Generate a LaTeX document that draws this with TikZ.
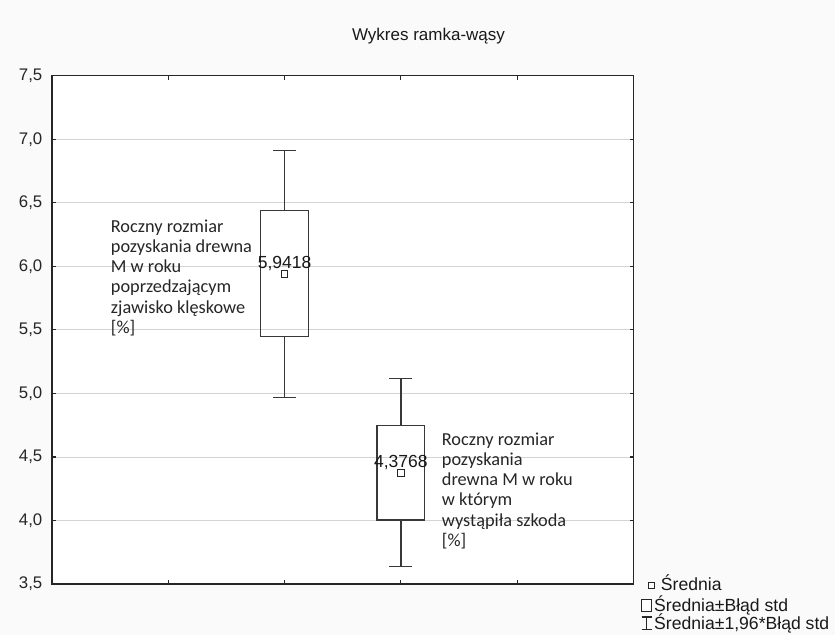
\documentclass[tikz,border=0pt]{standalone}
\usepackage{fontspec}
\setmainfont{Liberation Sans}
\newfontfamily\calib{Carlito}
\begin{document}
\begin{tikzpicture}[x=1pt,y=-1pt,
  framest/.style={draw=black!85, line width=1.4pt},
  gridst/.style={draw=black!17, line width=1pt},
  boxst/.style={draw=black!78, line width=1.3pt},
  tickst/.style={draw=black!85, line width=1.1pt},
  axlab/.style={font=\fontsize{16.8}{18}\selectfont, anchor=east, inner sep=0, text=black!85},
  notelab/.style={font=\calib\fontsize{18.3}{20.2}\selectfont, align=left, anchor=north west, inner sep=0, text=black!85},
  meanlab/.style={font=\fontsize{17.5}{19}\selectfont, inner sep=0, anchor=base, text=black!90},
  meanmark/.style={draw=black!85, line width=1pt, minimum size=6.5pt, inner sep=0, fill=white},
  legtext/.style={font=\fontsize{17.6}{19}\selectfont, anchor=base west, inner sep=0, text=black!90},
  titlest/.style={font=\fontsize{17}{19}\selectfont, anchor=base, inner sep=0, text=black!90}]
\useasboundingbox (0,0) rectangle (835,635);
\fill[black!2] (0,0) rectangle (835,635);
% plot area
\fill[white] (52,75.7) rectangle (633.5,584);
% grid lines and side ticks
\foreach \yy in {139.25,202.8,266.35,329.9,393.45,457.0,520.55}{
  \draw[gridst] (52,\yy) -- (633.5,\yy);
  \draw[tickst] (52,\yy) -- (56,\yy);
  \draw[tickst] (633.5,\yy) -- (629.5,\yy);
}
% top/bottom ticks
\foreach \xx in {168.3,284.6,400.9,517.2}{
  \draw[tickst] (\xx,75.7) -- (\xx,80);
  \draw[tickst] (\xx,584) -- (\xx,580);
}
% frame
\draw[framest] (52,75.7) rectangle (633.5,584);
% axis labels
\node[axlab] (l75) at (42.5,75.7) {7,5};
\node[axlab] (l70) at (42.5,139.25) {7,0};
\node[axlab] (l65) at (42.5,202.8) {6,5};
\node[axlab] (l60) at (42.5,266.35) {6,0};
\node[axlab] (l55) at (42.5,329.9) {5,5};
\node[axlab] (l50) at (42.5,393.45) {5,0};
\node[axlab] (l45) at (42.5,457.0) {4,5};
\node[axlab] (l40) at (42.5,520.55) {4,0};
\node[axlab] (l35) at (42.5,584) {3,5};
% title
\node[titlest] (title) at (428.5,40) {Wykres ramka-wąsy};
% box 1
\coordinate (w1t) at (284.6,150.3);
\coordinate (w1b) at (284.6,397.3);
\coordinate (b1t) at (284.6,210.8);
\coordinate (b1b) at (284.6,336.8);
\draw[boxst] (w1t) -- (b1t);
\draw[boxst] (b1b) -- (w1b);
\draw[boxst] ([xshift=-11.5pt]w1t) -- ([xshift=11.5pt]w1t);
\draw[boxst] ([xshift=-11.5pt]w1b) -- ([xshift=11.5pt]w1b);
\draw[boxst] (260.7,210.8) rectangle (308.5,336.8);
\node[meanmark] (m1) at (284.6,273.75) {};
\node[meanlab] (v1) at (284.6,268.3) {5,9418};
% box 2
\coordinate (w2t) at (400.9,378.8);
\coordinate (w2b) at (400.9,566.4);
\coordinate (b2t) at (400.9,425.2);
\coordinate (b2b) at (400.9,520.1);
\draw[boxst] (w2t) -- (b2t);
\draw[boxst] (b2b) -- (w2b);
\draw[boxst] ([xshift=-11.5pt]w2t) -- ([xshift=11.5pt]w2t);
\draw[boxst] ([xshift=-11.5pt]w2b) -- ([xshift=11.5pt]w2b);
\draw[boxst] (376.9,425.2) rectangle (424.5,520.1);
\node[meanmark] (m2) at (400.9,473.2) {};
\node[meanlab] (v2) at (400.9,467.3) {4,3768};
% annotations
\node[notelab] (n1) at (110.7,219.5) {Roczny rozmiar\\pozyskania drewna\\M w roku\\poprzedzającym\\zjawisko klęskowe\\{[}\%{]}};
\node[notelab] (n2) at (441.7,432.5) {Roczny rozmiar\\pozyskania\\drewna M w roku\\w którym\\wystąpiła szkoda\\{[}\%{]}};
% legend
\node[meanmark, minimum size=6pt] (lg1) at (651.5,585) {};
\node[legtext] (lt1) at (660.7,590.5) {Średnia};
\node[draw=black!85, line width=1.1pt, minimum width=10pt, minimum height=11.5pt, inner sep=0, fill=white] (lg2) at (646.7,605.3) {};
\node[legtext] (lt2) at (654,611) {Średnia±Błąd std};
\coordinate (lg3t) at (646.7,617);
\coordinate (lg3b) at (646.7,629.3);
\draw[black!85, line width=1.1pt] (lg3t) -- (lg3b);
\draw[black!85, line width=1.1pt] ([xshift=-5pt]lg3t) -- ([xshift=5pt]lg3t);
\draw[black!85, line width=1.1pt] ([xshift=-5pt]lg3b) -- ([xshift=5pt]lg3b);
\node[legtext] (lt3) at (654,629.5) {Średnia±1,96*Błąd std};
\end{tikzpicture}
\end{document}
